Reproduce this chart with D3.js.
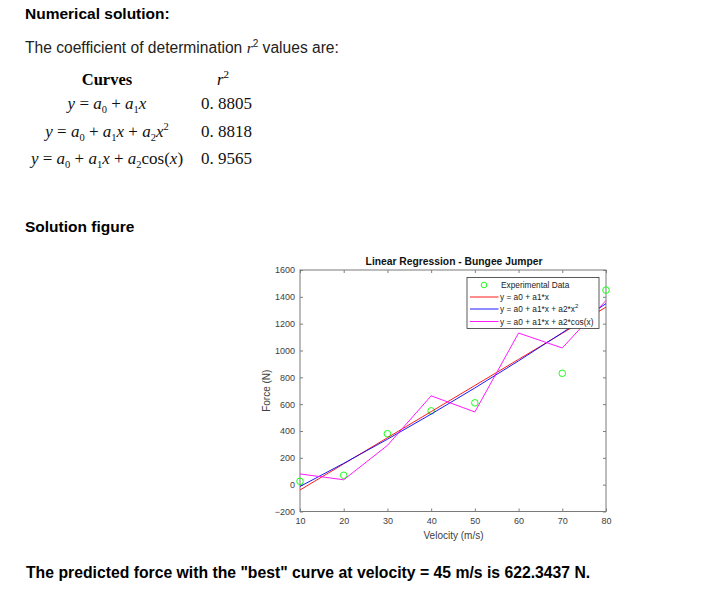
<!DOCTYPE html>
<html>
<head>
<meta charset="utf-8">
<script src="https://cdn.jsdelivr.net/npm/d3@7"></script>
<style>
  html, body { margin: 0; padding: 0; background: #fff; }
  svg { display: block; }
</style>
</head>
<body>
<svg id="page" width="714" height="605"></svg>
<script>
// Bungee jumper measurements: velocity (m/s) vs drag force (N)
const velocity = [10, 20, 30, 40, 50, 60, 70, 80];
const force = [25, 70, 380, 550, 610, 1220, 830, 1450];

// Fitted curves evaluated at each velocity
const fitLinear = [-39.58, 155.12, 349.82, 544.52, 739.23, 933.93, 1128.63, 1323.33];
const fitQuadratic = [-13.54, 158.84, 338.66, 525.92, 720.63, 922.77, 1132.35, 1349.37];
const fitCosine = [79.98, 36.50, 292.66, 662.09, 541.79, 1130.06, 1018.98, 1372.94];

// r^2 table
const r2Values = ["0. 8805", "0. 8818", "0. 9565"];

// Axis ticks
const xTicks = [10, 20, 30, 40, 50, 60, 70, 80];
const yTicks = [-200, 0, 200, 400, 600, 800, 1000, 1200, 1400, 1600];

const legendLabels = [
  "Experimental Data",
  "y = a0 + a1*x",
  "y = a0 + a1*x + a2*x",
  "y = a0 + a1*x + a2*cos(x)"
];

const svg = d3.select("#page");
const SANS = "'Liberation Sans', Arial, sans-serif";
const SERIF = "'Liberation Serif', 'Times New Roman', serif";

svg.append("rect").attr("width", 714).attr("height", 605).attr("fill", "#fff");

// ---- Text block above the figure ----
svg.append("text").attr("x", 25).attr("y", 19)
  .attr("font-family", SANS).attr("font-weight", "bold").attr("font-size", 15.5)
  .attr("fill", "#000").text("Numerical solution:");

const intro = svg.append("text").attr("x", 25).attr("y", 53)
  .attr("font-family", SANS).attr("font-size", 15.6).attr("fill", "#222");
intro.append("tspan").text("The coefficient of determination ");
intro.append("tspan").attr("font-family", SERIF).attr("font-style", "italic").text("r");
intro.append("tspan").attr("font-size", 10).attr("dy", -6).text("2");
intro.append("tspan").attr("dy", 6).text(" values are:");

// Table header
svg.append("text").attr("x", 107).attr("y", 85).attr("text-anchor", "middle")
  .attr("font-family", SERIF).attr("font-weight", "bold").attr("font-size", 16.5)
  .attr("fill", "#000").text("Curves");
const hdr = svg.append("text").attr("x", 223).attr("y", 85).attr("text-anchor", "middle")
  .attr("font-family", SERIF).attr("font-size", 16.5).attr("fill", "#000");
hdr.append("tspan").attr("font-style", "italic").text("r");
hdr.append("tspan").attr("font-size", 11).attr("dy", -7).text("2");

// Equation pieces: [text, kind] where kind is i (italic), n (normal), s (subscript), p (superscript)
const eqRows = [
  [["y", "i"], [" = ", "n"], ["a", "i"], ["0", "s"], [" + ", "n"], ["a", "i"], ["1", "s"], ["x", "i"]],
  [["y", "i"], [" = ", "n"], ["a", "i"], ["0", "s"], [" + ", "n"], ["a", "i"], ["1", "s"], ["x", "i"],
   [" + ", "n"], ["a", "i"], ["2", "s"], ["x", "i"], ["2", "p"]],
  [["y", "i"], [" = ", "n"], ["a", "i"], ["0", "s"], [" + ", "n"], ["a", "i"], ["1", "s"], ["x", "i"],
   [" + ", "n"], ["a", "i"], ["2", "s"], ["cos(", "n"], ["x", "i"], [")", "n"]]
];
const rowY = [109, 137, 164];

eqRows.forEach((parts, r) => {
  const t = svg.append("text").attr("x", 107).attr("y", rowY[r]).attr("text-anchor", "middle")
    .attr("font-family", SERIF).attr("font-size", 17).attr("fill", "#111");
  let shift = 0;
  parts.forEach(([s, k]) => {
    const sp = t.append("tspan").text(s);
    let target = 0;
    if (k === "i") sp.attr("font-style", "italic");
    if (k === "s") { sp.attr("font-size", 10.5); target = 4; }
    if (k === "p") { sp.attr("font-size", 10.5); target = -7; }
    sp.attr("dy", target - shift);
    shift = target;
  });
  svg.append("text").attr("x", 201).attr("y", rowY[r])
    .attr("font-family", SERIF).attr("font-size", 17).attr("fill", "#111")
    .text(r2Values[r]);
});

svg.append("text").attr("x", 25).attr("y", 232)
  .attr("font-family", SANS).attr("font-weight", "bold").attr("font-size", 15.5)
  .attr("fill", "#000").text("Solution figure");

svg.append("text").attr("x", 26).attr("y", 578)
  .attr("font-family", SANS).attr("font-weight", "bold").attr("font-size", 15.75)
  .attr("fill", "#000")
  .text("The predicted force with the \"best\" curve at velocity = 45 m/s is 622.3437 N.");

// ---- Figure ----
const L = 300, R = 606, T = 270, B = 511.5;
const x = d3.scaleLinear().domain([10, 80]).range([L, R]);
const y = d3.scaleLinear().domain([-200, 1600]).range([B, T]);
const axisColor = "#262626";
const tickColor = "#404040";
const fmt = d3.format("d");

const fig = svg.append("g");

fig.append("text").attr("x", 454).attr("y", 265).attr("text-anchor", "middle")
  .attr("font-family", SANS).attr("font-weight", "bold").attr("font-size", 10.3)
  .attr("fill", "#111").text("Linear Regression - Bungee Jumper");

function styleAxis(g, hideText) {
  g.attr("font-size", null).attr("font-family", null);
  g.select(".domain").remove();
  g.selectAll(".tick line").attr("stroke", axisColor).attr("stroke-width", 0.6);
  g.selectAll(".tick text").attr("fill", tickColor).attr("font-family", SANS).attr("font-size", 9);
  if (hideText) g.selectAll(".tick text").remove();
}

fig.append("g").attr("transform", `translate(0,${B})`)
  .call(d3.axisBottom(x).tickValues(xTicks).tickFormat(fmt).tickSize(-3).tickPadding(6))
  .call(g => styleAxis(g, false));
fig.append("g").attr("transform", `translate(0,${T})`)
  .call(d3.axisTop(x).tickValues(xTicks).tickSize(-3))
  .call(g => styleAxis(g, true));
fig.append("g").attr("transform", `translate(${L},0)`)
  .call(d3.axisLeft(y).tickValues(yTicks).tickFormat(fmt).tickSize(-3).tickPadding(5))
  .call(g => styleAxis(g, false));
fig.append("g").attr("transform", `translate(${R},0)`)
  .call(d3.axisRight(y).tickValues(yTicks).tickSize(-3))
  .call(g => styleAxis(g, true));

fig.append("rect").attr("x", L).attr("y", T).attr("width", R - L).attr("height", B - T)
  .attr("fill", "none").attr("stroke", "#7a7a7a").attr("stroke-width", 1);

fig.append("text").attr("x", 453.5).attr("y", 539).attr("text-anchor", "middle")
  .attr("font-family", SANS).attr("font-size", 10).attr("fill", tickColor).text("Velocity (m/s)");
fig.append("text").attr("transform", `translate(270,${(T + B) / 2}) rotate(-90)`)
  .attr("text-anchor", "middle")
  .attr("font-family", SANS).attr("font-size", 10).attr("fill", tickColor).text("Force (N)");

const plot = fig.append("g");
plot.selectAll("circle").data(velocity).join("circle")
  .attr("cx", d => x(d)).attr("cy", (d, i) => y(force[i])).attr("r", 3.3)
  .attr("fill", "none").attr("stroke", "#00ff00").attr("stroke-width", 0.9);

const curves = [
  { vals: fitLinear, color: "#ff0000" },
  { vals: fitQuadratic, color: "#0000ff" },
  { vals: fitCosine, color: "#ff00ff" }
];
const line = d3.line().x(d => x(d[0])).y(d => y(d[1]));
curves.forEach(c => {
  plot.append("path").datum(velocity.map((v, i) => [v, c.vals[i]]))
    .attr("d", line).attr("fill", "none").attr("stroke", c.color).attr("stroke-width", 0.9);
});

// Legend
const lg = fig.append("g");
lg.append("rect").attr("x", 467).attr("y", 277.5).attr("width", 132).attr("height", 51)
  .attr("fill", "#fff").attr("stroke", "#333").attr("stroke-width", 0.8);
const rowsY = [285, 297, 309, 321.5];
const legendColors = [null, "#ff0000", "#0000ff", "#ff00ff"];
legendLabels.forEach((lab, i) => {
  if (i === 0) {
    lg.append("circle").attr("cx", 484).attr("cy", rowsY[0]).attr("r", 2.8)
      .attr("fill", "none").attr("stroke", "#00ff00").attr("stroke-width", 0.9);
  } else {
    lg.append("line").attr("x1", 470).attr("x2", 498.5).attr("y1", rowsY[i]).attr("y2", rowsY[i])
      .attr("stroke", legendColors[i]).attr("stroke-width", 0.9);
  }
  const t = lg.append("text").attr("x", i === 0 ? 501 : 500).attr("y", rowsY[i] + 3)
    .attr("font-family", SANS).attr("font-size", 8.3).attr("fill", "#222").text(lab);
  if (i === 2) t.append("tspan").attr("font-size", 6).attr("dy", -4).text("2");
});
</script>
</body>
</html>
